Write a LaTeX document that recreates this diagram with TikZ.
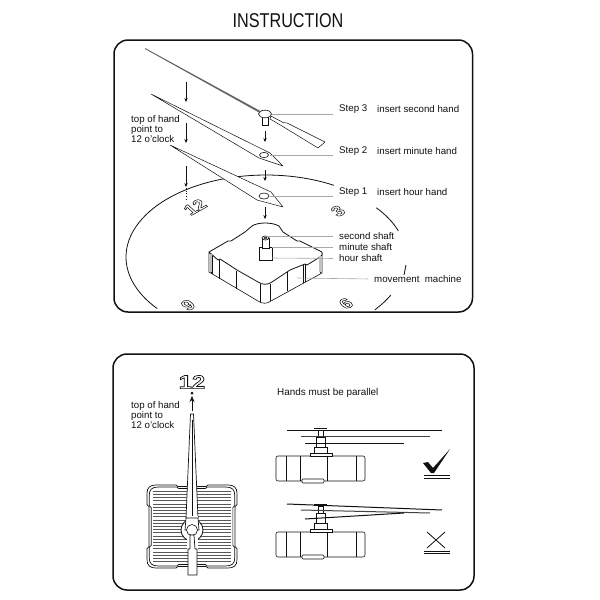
\documentclass[tikz,border=0pt]{standalone}
\usepackage{fontspec}
\setmainfont{Liberation Sans}
\usetikzlibrary{arrows.meta,calc}
\definecolor{ink}{HTML}{111111}
\definecolor{leadergray}{HTML}{A8A8A8}
\newcommand{\hollow}[1]{\special{pdf:code q 1 Tr .65 w}#1\special{pdf:code Q}}
\begin{document}
\begin{tikzpicture}[x=1pt,y=-1pt,every node/.style={text=ink,inner sep=3pt},frame/.style={ink,line width=1.5pt,rounded corners=14pt},label/.style={anchor=west,font=\fontsize{9.7}{10}\selectfont},note/.style={anchor=north west,align=left,font=\fontsize{9.7}{10.2}\selectfont},leader/.style={leadergray,line width=.6pt,shorten >=3pt},fall/.style={ink,line width=.5pt,-{Stealth[length=4pt,width=3.4pt]}},hand/.style={ink,fill=white,line width=.5pt,line join=round},part/.style={ink,fill=white,line width=.6pt},rim/.style={ink,line width=.8pt},digit/.style={font=\bfseries\fontsize{21}{21}\selectfont,inner sep=0pt,cm={.75,.42,-.6,.55,(0,0)},transform shape}]
\useasboundingbox (0,0) rectangle (600,600);
\fill[white] (0,0) rectangle (600,600);
\node[font=\fontsize{20}{20}\selectfont,xscale=.81] (title) at (288,21){INSTRUCTION};
\draw[frame] (114,40) rectangle (472.5,312);
\draw[frame] (113,354) rectangle (474,590);
% clock face
\draw[rim] plot[domain=141:299,samples=60] ({266+140*cos(\x)},{257+82*sin(\x)});
\draw[rim] plot[domain=322:341,samples=12] ({266+140*cos(\x)},{257+80*sin(\x)});
\draw[rim] plot[domain=27:39,samples=8] ({266+140*cos(\x)},{257+84*sin(\x)});
\draw[rim] (406,265)--(404,275);
\node[digit] (twelve) at (195,207){\hollow{12}};
\node[digit] (three) at (338,211){\hollow{3}};
\node[digit] (nine) at (188,305){\hollow{9}};
\node[digit] (six) at (346,303.5){\hollow{6}};
% hands
\fill[ink!65] (145,48)--(260,110.8)--(259.2,112.6)--(145,49)--cycle;
\draw[hand] (271,116)--(283,122.5)--(287,123)--(325,142)--(318,148)--(282,126)--(270,119)--cycle;
\draw[part] (262,116) rectangle (268,125);\draw[part] (265,114) ellipse (6.5 and 3.8);
\draw[hand] (151,94)--(270,153)--(283,166)--(259,158)--cycle;\draw[part] (264,155) ellipse (4.5 and 2.6);
\draw[hand] (170,145)--(271,192)--(283,207)--(257,200)--cycle;\draw[part] (264,196) ellipse (5 and 3);
\foreach \ax/\ay/\by in {186/82/102,186/123/143,186/166/187,265/131/142,265/170/181,265/207/219}\draw[fall] (\ax,\ay)--(\ax,\by);
\draw[ink,line width=.7pt,dotted] (186,188)--(186,199);
% movement
\draw[part] (209,253)--(209,272)--(258,301) .. controls (262,304) and (267,304) .. (271,301)--(322,273)--(322,254)--cycle;
\draw[part,line width=.8pt] (209,252)--(228,241)--(231,241)--(245,232)--(252,226) .. controls (258,222) and (272,222) .. (279,226)--(283,232)--(297,241)--(300,241)--(320,251) .. controls (323,252) and (323,255) .. (320,257)--(307,265)--(305,264)--(290,270)--(287,272)--(272,282) .. controls (268,285) and (262,285) .. (258,282)--(237,270)--(220,259)--(218,260)--cycle;
\foreach \ax/\ay/\by in {211/255/273,212/256/274,219/260/279,236/271/289,260/284/302,270/284/301,287/272/291,303/265/283,305/264/282,320/256/273}\draw[ink,line width=.6pt] (\ax,\ay)--(\ax,\by);
\fill[leadergray!70] (209,254) rectangle (212,272);\fill[leadergray!70] (319,256) rectangle (322,272);
\draw[part] (259,247) rectangle (272,260);\draw[part] (262,238) rectangle (269,248);\draw[part] (265.5,238) ellipse (3.5 and 2);\draw[part] (265.5,238) ellipse (1.5 and 1);
% labels
\coordinate (stepthreeend) at (272,114);\coordinate (steptwoend) at (270,155);\coordinate (steponeend) at (270,196);
\coordinate (secondend) at (267,236);\coordinate (minuteend) at (272,247);\coordinate (hourend) at (272,258);\coordinate (machineend) at (297,278);
\node[label] (stepthree) at (336,109.5){Step 3};\node[label] (stepthreetext) at (374,109.5){insert second hand};
\node[label] (steptwo) at (336,151){Step 2};\node[label] (steptwotext) at (374,151){insert minute hand};
\node[label] (stepone) at (336,192.5){Step 1};\node[label] (steponetext) at (374,192.5){insert hour hand};
\node[label] (secondlabel) at (336,236){second shaft};\node[label] (minutelabel) at (336,247){minute shaft};\node[label] (hourlabel) at (336,258.5){hour shaft};
\node[label] (machinelabel) at (371,279){movement\ \ machine};
\draw[leader] (stepthreeend)--(stepthreeend -| stepthree.west);\draw[leader] (steptwoend)--(steptwoend -| steptwo.west);\draw[leader] (steponeend)--(steponeend -| stepone.west);
\draw[leader] (secondend)--(secondlabel.west);\draw[leader] (minuteend)--(minutelabel.west);\draw[leader] (hourend)--(hourlabel.west);\draw[leader] (machineend)--(machinelabel.west);
\node[note] (topnote) at (128,112){top of hand\\point to\\12 o'clock};
% front view
\node[font=\bfseries\fontsize{19}{19}\selectfont,inner sep=0pt,xscale=1.25] (frontnum) at (192,382){\hollow{12}};
\fill[ink] (192,393) circle (1.5);
\draw[ink,line width=.7pt,-{Stealth[length=6pt,width=5pt]}] (192,411)--(192,396);
\node[note] (frontnote) at (128,398){top of hand\\point to\\12 o'clock};
\foreach \ay in {491,494.2,...,563}\draw[ink!70,line width=.55pt] (153,\ay)--(231,\ay);
\foreach \s in {1,.95}\draw[ink,line width=.7pt,shift={(192,526.5)},scale=\s] (-14,-40)--(14,-40)--(16,-41.5)--(36,-41.5) .. controls (42,-41.5) and (45,-39) .. (45,-33)--(45,-22)--(43,-20)--(43,20)--(45,22)--(45,33) .. controls (45,39) and (42,41.5) .. (36,41.5)--(16,41.5)--(14,40)--(-14,40)--(-16,41.5)--(-36,41.5) .. controls (-42,41.5) and (-45,39) .. (-45,33)--(-45,22)--(-43,20)--(-43,-20)--(-45,-22)--(-45,-33) .. controls (-45,-39) and (-42,-41.5) .. (-36,-41.5)--(-16,-41.5)--cycle;
\draw[hand,line width=.7pt] (190.5,414)--(193.5,414)--(198,518)--(186,518)--cycle;\draw[ink,line width=.5pt] (192,420)--(192,518);
\draw[ink,fill=white,line width=.8pt] (192,530) circle (11);\fill[white] (186.5,516) rectangle (197.5,550);
\draw[hand,line width=.7pt] (186,518)--(198,518)--(199,530)--(185,530)--cycle;\draw[part] (192,530) circle (5.5);
\draw[hand,line width=.7pt] (190,535)--(194,535)--(195,549)--(197,549)--(197,575)--(188,575)--(188,549)--(190,549)--cycle;
% parallel check
\node[label,font=\fontsize{9.9}{10}\selectfont] (parallel) at (274,393){Hands must be parallel};
\foreach \ay in {0,76}{\begin{scope}[yshift=-\ay pt]
\draw[part,rounded corners=2pt] (276,456) rectangle (365,481);\draw[part,rounded corners=1pt] (302,479) rectangle (324,483);
\foreach \ax in {286,300,327,356}\draw[ink,line width=.6pt] (\ax,456)--(\ax,481);
\draw[part] (310,453) rectangle (332,456);\draw[part] (314,447) rectangle (327,453);\draw[part] (316,437) rectangle (325,447);\draw[part] (318,430) rectangle (323,437);
\end{scope}}
\draw[ink,line width=1pt] (287,430)--(442,430);\draw[ink!80,line width=1pt] (301,436)--(430,436);\draw[ink,line width=1pt] (305,443)--(404,443);\draw[ink,line width=1.5pt] (314,428.5)--(327,428.5);
\draw[ink,line width=1pt] (287,504)--(442,510);\draw[ink!80,line width=1pt] (301,510)--(430,513);\draw[ink,line width=1pt] (305,519)--(404,513);\draw[ink,line width=1.5pt] (314,505)--(327,505);
\fill[ink] (423,463)--(428,462)--(433,468)--(450,449)--(434,473)--(431,473)--cycle;
\draw[ink,line width=.8pt] (424,475)--(450,475) (424,478)--(450,478);
\draw[ink,line width=.8pt] (427,532)--(445,548) (445,532)--(427,548);
\draw[ink,line width=.8pt] (424,551)--(450,551) (424,553.5)--(450,553.5);
\end{tikzpicture}
\end{document}
